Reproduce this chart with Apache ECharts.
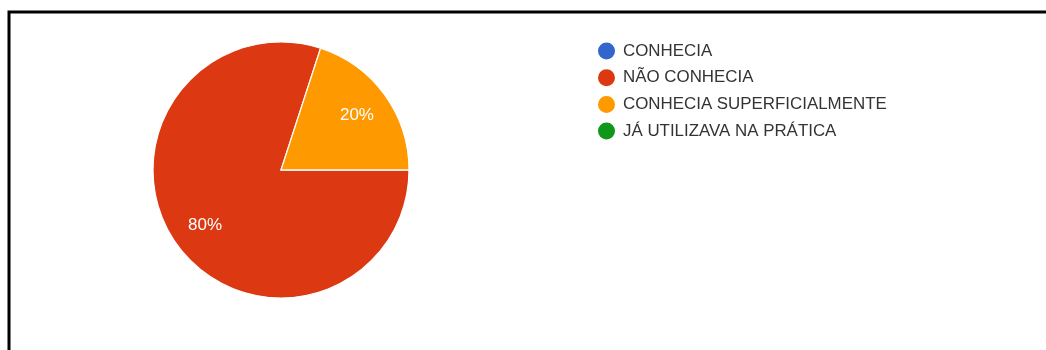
<!DOCTYPE html>
<html>
<head>
<meta charset="utf-8">
<script src="https://cdn.jsdelivr.net/npm/echarts@6/dist/echarts.min.js"></script>
<style>
  html, body { margin: 0; padding: 0; background: #fff; }
  #chart { width: 1046px; height: 350px; }
</style>
</head>
<body>
<div id="chart"></div>
<script>
// Answer categories and their share of responses (%)
const categories = ['CONHECIA', 'NÃO CONHECIA', 'CONHECIA SUPERFICIALMENTE', 'JÁ UTILIZAVA NA PRÁTICA'];
const shares = [0, 80, 20, 0];
const colors = ['#3366cc', '#dc3912', '#ff9900', '#109618'];

const FONT = '"Liberation Sans", Arial, sans-serif';
const CX = 281, CY = 170, R = 128;

const pieData = categories.map((name, i) => ({
  name: name,
  value: shares[i],
  itemStyle: { color: colors[i] }
}));

const chart = echarts.init(document.getElementById('chart'), null, { renderer: 'canvas' });

chart.setOption({
  animation: false,
  backgroundColor: '#ffffff',
  legend: {
    orient: 'vertical',
    left: 596,
    top: 40.5,
    padding: 0,
    icon: 'circle',
    itemWidth: 19,
    itemHeight: 19,
    itemGap: 5.7,
    selectedMode: false,
    data: categories,
    textStyle: { fontFamily: FONT, fontSize: 16.9, color: '#333333', padding: [0, 0, 0, 2] }
  },
  series: [
    {
      // the pie itself
      type: 'pie',
      center: [CX, CY],
      radius: [0, R],
      startAngle: 0,
      clockwise: true,
      silent: true,
      data: pieData,
      itemStyle: { borderColor: '#ffffff', borderWidth: 1.2 },
      label: { show: false },
      labelLine: { show: false }
    },
    {
      // percentage labels, placed at ~0.71 of the pie radius
      type: 'pie',
      center: [CX, CY],
      radius: [0, R * 1.42],
      startAngle: 0,
      clockwise: true,
      silent: true,
      data: pieData.map(d => ({ name: d.name, value: d.value })),
      itemStyle: { color: 'rgba(0,0,0,0)', borderWidth: 0 },
      label: {
        show: true,
        position: 'inside',
        fontFamily: FONT,
        fontSize: 17,
        color: '#ffffff',
        formatter: p => (p.value > 0 ? Math.round(p.percent) + '%' : '')
      },
      labelLine: { show: false }
    }
  ],
  graphic: [
    {
      type: 'polyline',
      shape: { points: [[1046, 12], [9, 12], [9, 350]] },
      style: { stroke: '#000000', lineWidth: 3, fill: null }
    }
  ]
});
</script>
</body>
</html>
